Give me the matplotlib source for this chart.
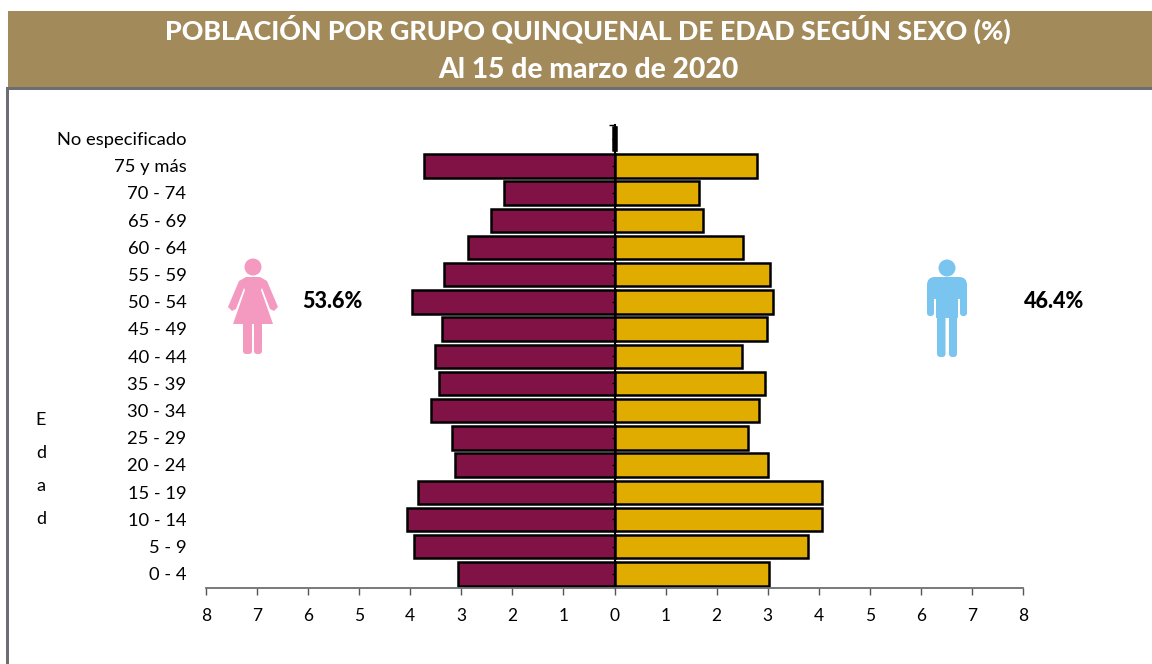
import numpy as np
import matplotlib.pyplot as plt
from matplotlib.patches import Circle, Polygon, Rectangle, FancyBboxPatch

plt.rcParams['font.family'] = ['Lato', 'DejaVu Sans']

grupos = ['0 - 4', '5 - 9', '10 - 14', '15 - 19', '20 - 24', '25 - 29', '30 - 34', '35 - 39',
          '40 - 44', '45 - 49', '50 - 54', '55 - 59', '60 - 64', '65 - 69', '70 - 74',
          '75 y más', 'No especificado']
mujeres = [3.07, 3.93, 4.07, 3.85, 3.13, 3.19, 3.60, 3.44, 3.52, 3.38, 3.97, 3.34, 2.87, 2.42, 2.17, 3.73, 0.02]
hombres = [3.03, 3.79, 4.07, 4.07, 3.01, 2.62, 2.83, 2.95, 2.50, 2.99, 3.11, 3.05, 2.52, 1.73, 1.66, 2.79, 0.03]
xticks = [-8, -7, -6, -5, -4, -3, -2, -1, 0, 1, 2, 3, 4, 5, 6, 7, 8]
xlabels = ['8', '7', '6', '5', '4', '3', '2', '1', '0', '1', '2', '3', '4', '5', '6', '7', '8']

W, H = 1152, 664
fig = plt.figure(figsize=(W / 100, H / 100), dpi=100)

# capa de fondo en pixeles
bg = fig.add_axes([0, 0, 1, 1])
bg.set_xlim(0, W)
bg.set_ylim(H, 0)
bg.axis('off')
bg.add_patch(Rectangle((8, 11), W - 8, 77, color='#A28A5A', lw=0))
bg.add_patch(Rectangle((6, 87), W - 6, 3, color='#6D6E71', lw=0))
bg.add_patch(Rectangle((6, 87), 3, H - 87, color='#6D6E71', lw=0))
bg.text(588, 29, 'POBLACIÓN POR GRUPO QUINQUENAL DE EDAD SEGÚN SEXO (%)', color='white',
        fontsize=19.3, fontweight=900, ha='center', va='center')
bg.text(588, 70, 'Al 15 de marzo de 2020', color='white',
        fontsize=20.3, fontweight=900, ha='center', va='center')

# icono mujer
rosa = '#F49AC1'
bg.add_patch(Circle((253, 267), 8.5, color=rosa, lw=0))
bg.add_patch(Polygon([(246, 277), (260, 277), (267, 281), (278, 307), (274, 311), (270, 309),
                      (262, 288), (261, 290), (273, 324), (233, 324), (245, 290), (244, 288),
                      (236, 309), (232, 311), (228, 307), (239, 281)], closed=True, color=rosa, lw=0))
bg.add_patch(FancyBboxPatch((243, 320), 9, 34, boxstyle='round,pad=0,rounding_size=3', color=rosa, lw=0))
bg.add_patch(FancyBboxPatch((254, 320), 8, 34, boxstyle='round,pad=0,rounding_size=3', color=rosa, lw=0))

# icono hombre
azul = '#7AC5F0'
bg.add_patch(Circle((947, 268), 8.5, color=azul, lw=0))
bg.add_patch(FancyBboxPatch((927, 277), 40, 22, boxstyle='round,pad=0,rounding_size=8', color=azul, lw=0))
bg.add_patch(Rectangle((936, 285), 22, 33, color=azul, lw=0))
bg.add_patch(FancyBboxPatch((927, 285), 7, 31, boxstyle='round,pad=0,rounding_size=3', color=azul, lw=0))
bg.add_patch(FancyBboxPatch((960, 285), 7, 31, boxstyle='round,pad=0,rounding_size=3', color=azul, lw=0))
bg.add_patch(FancyBboxPatch((937, 310), 8.5, 47, boxstyle='round,pad=0,rounding_size=3.5', color=azul, lw=0))
bg.add_patch(FancyBboxPatch((949, 310), 8, 47, boxstyle='round,pad=0,rounding_size=3.5', color=azul, lw=0))

bg.text(332.5, 301, '53.6%', fontsize=15.5, fontweight=900, ha='center', va='center', color='black')
bg.text(1054, 301, '46.4%', fontsize=15.5, fontweight=900, ha='center', va='center', color='black')
for letra, yy in zip('Edad', [420, 453, 486, 519]):
    bg.text(41, yy, letra, fontsize=13, ha='center', va='center', color='black')

# piramide
left, right, top, bottom = 206, 1023, 125, 587.5
ax = fig.add_axes([left / W, 1 - bottom / H, (right - left) / W, (bottom - top) / H])
ax.patch.set_alpha(0)
y = np.arange(len(grupos))
ax.barh(y, -np.array(mujeres), height=0.86, color='#801245', edgecolor='black', linewidth=1.8)
ax.barh(y, hombres, height=0.86, color='#E0AC00', edgecolor='black', linewidth=1.8)
ax.set_xlim(-8, 8)
ax.set_ylim(-0.5, len(grupos) - 0.5)
ax.set_xticks(xticks)
ax.set_xticklabels(xlabels, fontsize=12.5)
ax.set_yticks(y)
ax.set_yticklabels([])
ax.set_yticks([len(grupos) - 0.5], minor=True)

ax.spines['top'].set_visible(False)
ax.spines['right'].set_visible(False)
ax.spines['left'].set_position(('data', 0))
ax.spines['left'].set_color('black')
ax.spines['left'].set_linewidth(1.5)
ax.spines['bottom'].set_color('#6D6E71')
ax.spines['bottom'].set_linewidth(1.3)
ax.tick_params(axis='x', direction='out', length=5, width=1, color='#555555', pad=10)
ax.tick_params(axis='y', which='major', direction='out', length=2.5, width=1, color='black')
ax.tick_params(axis='y', which='minor', direction='out', length=4.5, width=1, color='black')

# etiquetas de edad a la izquierda del eje
for pos, nombre in zip(y, grupos):
    ax.annotate(nombre, xy=(-0.0239, pos), xycoords=ax.get_yaxis_transform(),
                xytext=(0, -1), textcoords='offset points', fontsize=13.2,
                ha='right', va='center', color='black')

fig.savefig('out.png', dpi=100)
